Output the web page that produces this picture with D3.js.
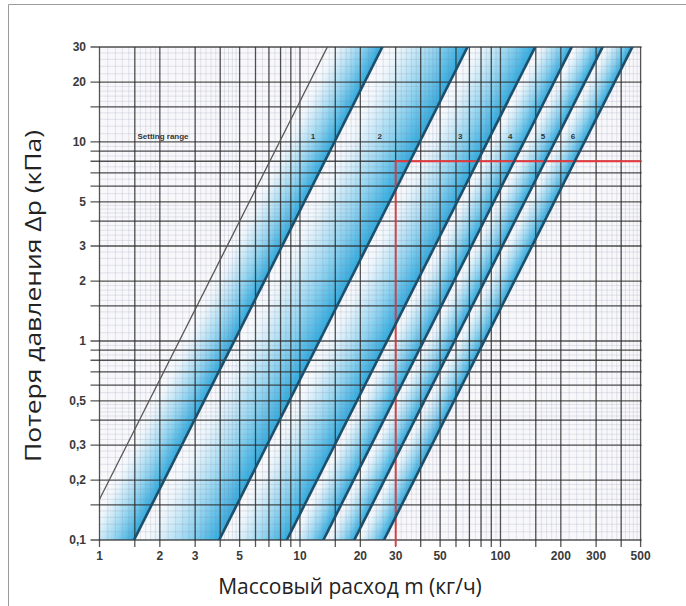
<!DOCTYPE html>
<html>
<head>
<meta charset="utf-8">
<script src="https://cdn.jsdelivr.net/npm/d3@7"></script>
<style>
  html, body { margin: 0; padding: 0; background: #fff; }
  svg { display: block; }
</style>
</head>
<body>
<div id="chart"></div>
<script>
// Kv of each curve (m = 100 * Kv * sqrt(dp)), first one is the thin limit line
const curveKv = [0.025, 0.047, 0.125, 0.272, 0.414, 0.59, 0.83];
const bandLabels = ["1", "2", "3", "4", "5", "6"];
const bandLabelX = [11.6, 25, 63, 112, 163, 230];   // flow where the band number sits
const xTicks = [1, 2, 3, 5, 10, 20, 30, 50, 100, 200, 300, 500];
const yTicks = [0.1, 0.2, 0.3, 0.5, 1, 2, 3, 5, 10, 20, 30];
const majorSteps = [1, 1.5, 2, 3, 4, 5, 6, 7, 8, 9];
// operating point (red lines)
const workFlow = 30;
const workDp = 8;

const width = 686, height = 606;
const x = d3.scaleLog().domain([1, 500]).range([99.5, 640.6]);
const y = d3.scaleLog().domain([0.1, 30]).range([540, 47]);

const fmt = v => String(v).replace(".", ",");

function gridValues(lo, hi, steps) {
    const out = [];
    for (let d = 0.01; d <= 1000; d *= 10) {
        steps.forEach(s => {
            const v = +(s * d).toPrecision(6);
            if (v >= lo * 0.9999 && v <= hi * 1.0001) out.push(v);
        });
    }
    return out;
}

function minorSteps() {
    const s = [];
    for (let v = 1.1; v < 2; v += 0.1) s.push(+v.toFixed(2));
    for (let v = 2.2; v < 5; v += 0.2) s.push(+v.toFixed(2));
    for (let v = 5.5; v < 10; v += 0.5) s.push(+v.toFixed(2));
    return s;
}

const svg = d3.select("#chart").append("svg")
    .attr("width", width).attr("height", height);

// frame (left and top edges only)
svg.append("path").attr("d", "M8.5,606 V4.5 H686")
    .attr("fill", "none").attr("stroke", "#9a9a9a").attr("stroke-width", 1);

const defs = svg.append("defs");
defs.append("clipPath").attr("id", "plotClip").append("rect")
    .attr("x", x(1)).attr("y", y(30))
    .attr("width", x(500) - x(1)).attr("height", y(0.1) - y(30));

svg.append("rect")
    .attr("x", x(1)).attr("y", y(30))
    .attr("width", x(500) - x(1)).attr("height", y(0.1) - y(30))
    .attr("fill", "#f8f8fb");

// pixel end points of a curve between dp 0.05 and 40
function curvePts(kv) {
    return [0.05, 40].map(dp => [x(100 * kv * Math.sqrt(dp)), y(dp)]);
}

const bands = svg.append("g").attr("clip-path", "url(#plotClip)");
for (let i = 0; i < curveKv.length - 1; i++) {
    const a = curvePts(curveKv[i]);
    const b = curvePts(curveKv[i + 1]);
    // gradient perpendicular to the (parallel) curves
    const dx = a[1][0] - a[0][0], dy = a[1][1] - a[0][1];
    const len = Math.hypot(dx, dy);
    const nx = -dy / len, ny = dx / len;
    const dist = (b[0][0] - a[0][0]) * nx + (b[0][1] - a[0][1]) * ny;
    const grad = defs.append("linearGradient")
        .attr("id", "band" + i)
        .attr("gradientUnits", "userSpaceOnUse")
        .attr("x1", a[0][0]).attr("y1", a[0][1])
        .attr("x2", a[0][0] + nx * dist).attr("y2", a[0][1] + ny * dist);
    [[0, "#ffffff", 0], [0.25, "#e2f2fa", 0.9], [0.65, "#8dd2ef", 1], [1, "#30aade", 1]]
        .forEach(s => grad.append("stop").attr("offset", s[0])
            .attr("stop-color", s[1]).attr("stop-opacity", s[2]));
    bands.append("path")
        .attr("d", d3.line()([a[0], a[1], b[1], b[0]]) + "Z")
        .attr("fill", `url(#band${i})`);
}

// minor grid
const grid = svg.append("g");
const mStep = minorSteps();
grid.selectAll(".mx").data(gridValues(1, 500, mStep)).join("line")
    .attr("x1", d => x(d)).attr("x2", d => x(d))
    .attr("y1", y(30)).attr("y2", y(0.1))
    .attr("stroke", "#7d80a0").attr("stroke-opacity", 0.28).attr("stroke-width", 0.7);
grid.selectAll(".my").data(gridValues(0.1, 30, mStep)).join("line")
    .attr("y1", d => y(d)).attr("y2", d => y(d))
    .attr("x1", x(1)).attr("x2", x(500))
    .attr("stroke", "#7d80a0").attr("stroke-opacity", 0.28).attr("stroke-width", 0.7);

// major grid, running out past the axes as ticks
grid.selectAll(".Mx").data(gridValues(1, 500, majorSteps)).join("line")
    .attr("x1", d => x(d)).attr("x2", d => x(d))
    .attr("y1", y(30)).attr("y2", y(0.1) + 7)
    .attr("stroke", "#2b2b2b").attr("stroke-opacity", 0.8).attr("stroke-width", 1.3);
grid.selectAll(".My").data(gridValues(0.1, 30, majorSteps)).join("line")
    .attr("y1", d => y(d)).attr("y2", d => y(d))
    .attr("x1", x(1) - 9).attr("x2", x(500) + 1)
    .attr("stroke", "#2b2b2b").attr("stroke-opacity", 0.8).attr("stroke-width", 1.3);

// red operating point lines
svg.append("path")
    .attr("d", `M${x(workFlow)},${y(0.1) + 6} V${y(workDp)} H${x(500)}`)
    .attr("fill", "none").attr("stroke", "#e8383d").attr("stroke-width", 1.8);

// curves
const curves = svg.append("g").attr("clip-path", "url(#plotClip)");
curveKv.forEach((kv, i) => {
    curves.append("path")
        .attr("d", d3.line()(curvePts(kv)))
        .attr("stroke", i === 0 ? "#555" : "#1b4f6b")
        .attr("stroke-width", i === 0 ? 1.3 : 2.6)
        .attr("fill", "none");
});

// labels inside the plot
const lblFont = "'Liberation Sans', Arial, sans-serif";
svg.append("text").attr("x", 163).attr("y", 139)
    .attr("text-anchor", "middle").attr("font-family", lblFont)
    .attr("font-size", 8).attr("font-weight", "bold").attr("fill", "#333")
    .text("Setting range");
svg.selectAll(".band-lbl").data(bandLabels).join("text")
    .attr("x", (d, i) => x(bandLabelX[i])).attr("y", 139)
    .attr("text-anchor", "middle").attr("font-family", lblFont)
    .attr("font-size", 8).attr("font-weight", "bold").attr("fill", "#333")
    .text(d => d);

// tick labels
svg.selectAll(".xt").data(xTicks).join("text")
    .attr("x", d => x(d)).attr("y", 560)
    .attr("text-anchor", "middle").attr("font-family", lblFont)
    .attr("font-size", 12).attr("font-weight", "bold").attr("fill", "#3a3a3a")
    .text(d => fmt(d));
svg.selectAll(".yt").data(yTicks).join("text")
    .attr("x", 86).attr("y", d => y(d) + 4)
    .attr("text-anchor", "end").attr("font-family", lblFont)
    .attr("font-size", 12).attr("font-weight", "bold").attr("fill", "#3a3a3a")
    .text(d => fmt(d));

// axis titles
const titleFont = "'Open Sans', 'Noto Sans', sans-serif";
svg.append("text").attr("x", 350).attr("y", 594)
    .attr("text-anchor", "middle").attr("font-family", titleFont)
    .attr("font-size", 21).attr("fill", "#222")
    .text("Массовый расход m (кг/ч)");
svg.append("text")
    .attr("transform", "translate(41,296) rotate(-90)")
    .attr("text-anchor", "middle").attr("font-family", titleFont)
    .attr("font-size", 22).attr("fill", "#222")
    .attr("textLength", 332).attr("lengthAdjust", "spacingAndGlyphs")
    .text("Потеря давления Δp (кПа)");
</script>
</body>
</html>
